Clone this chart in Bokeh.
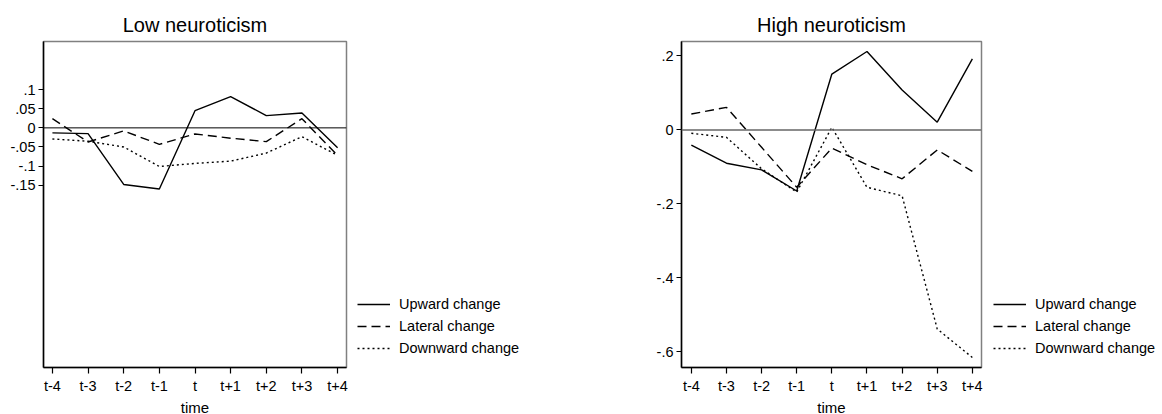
from bokeh.plotting import figure
from bokeh.layouts import row
from bokeh.models import FixedTicker, Span, Legend, LegendItem, Range1d
from bokeh.embed import file_html
from bokeh.resources import INLINE

time_labels = ["t-4", "t-3", "t-2", "t-1", "t", "t+1", "t+2", "t+3", "t+4"]
series_names = ["Upward change", "Lateral change", "Downward change"]

low_upward = [-0.013, -0.015, -0.148, -0.160, 0.045, 0.082, 0.032, 0.039, -0.052]
low_lateral = [0.024, -0.037, -0.008, -0.043, -0.016, -0.027, -0.036, 0.024, -0.072]
low_downward = [-0.029, -0.035, -0.050, -0.101, -0.093, -0.087, -0.066, -0.023, -0.072]

high_upward = [-0.041, -0.090, -0.108, -0.165, 0.151, 0.212, 0.108, 0.021, 0.192]
high_lateral = [0.043, 0.061, -0.047, -0.155, -0.049, -0.094, -0.132, -0.054, -0.112]
high_downward = [-0.009, -0.020, -0.105, -0.168, 0.007, -0.155, -0.178, -0.538, -0.615]

low_yticks = [0.1, 0.05, 0.0, -0.05, -0.1, -0.15]
low_ytick_labels = [".1", ".05", "0", "-.05", "-.1", "-.15"]
high_yticks = [0.2, 0.0, -0.2, -0.4, -0.6]
high_ytick_labels = [".2", "0", "-.2", "-.4", "-.6"]

FONT = "Liberation Sans"
xs = list(range(len(time_labels)))
dashes = ["solid", "9 5", "2 3"]
LINE_W = 1.4


def make_panel(title, ys_list, yticks, ylabels, xr, yr, fw, mbl, zero_color, zero_width):
    p = figure(frame_width=fw, frame_height=326, output_backend="svg", toolbar_location=None,
               x_range=Range1d(*xr), y_range=Range1d(*yr),
               min_border_left=mbl, min_border_right=2, min_border_top=41, min_border_bottom=47)
    p.title.text = title
    p.title.align = "center"
    p.title.text_font = FONT
    p.title.text_font_size = "20px"
    p.title.text_font_style = "normal"
    p.title.text_color = "black"
    p.title.standoff = 11
    p.xgrid.visible = False
    p.ygrid.visible = False
    p.outline_line_color = "#808080"
    p.outline_line_width = 1.5
    p.background_fill_color = "white"
    p.border_fill_color = "white"

    p.add_layout(Span(location=0, dimension="width", line_color=zero_color, line_width=zero_width))

    for ys, dash in zip(ys_list, dashes):
        p.line(xs, ys, line_color="black", line_width=LINE_W, line_dash=dash)

    xa = p.xaxis[0]
    xa.ticker = FixedTicker(ticks=xs)
    xa.major_label_overrides = {i: lab for i, lab in zip(xs, time_labels)}
    xa.axis_label = "time"
    xa.axis_label_text_font = FONT
    xa.axis_label_text_font_size = "15px"
    xa.axis_label_text_font_style = "normal"
    xa.axis_label_text_color = "black"
    xa.axis_label_standoff = 2
    xa.major_label_standoff = 4

    ya = p.yaxis[0]
    ya.ticker = FixedTicker(ticks=yticks)
    ya.major_label_overrides = {t: lab for t, lab in zip(yticks, ylabels)}
    ya.major_label_standoff = 3

    for ax in (xa, ya):
        ax.minor_tick_line_color = None
        ax.major_tick_out = 6 if ax is xa else 5
        ax.major_tick_in = 0
        ax.axis_line_color = "black"
        ax.axis_line_width = 1.5
        ax.major_tick_line_color = "black"
        ax.major_tick_line_width = 1.2
        ax.major_label_text_font = FONT
        ax.major_label_text_font_size = "14.5px"
        ax.major_label_text_color = "black"
    return p


def make_legend(width, x_off, ys_list):
    # legend-only panel: the series are plotted outside its (empty) visible range
    q = figure(width=width, height=414, output_backend="svg", toolbar_location=None,
               x_range=Range1d(100, 101), y_range=Range1d(100, 101),
               min_border=0, x_axis_type=None, y_axis_type=None)
    q.xgrid.visible = False
    q.ygrid.visible = False
    q.outline_line_color = None
    q.background_fill_color = "white"
    q.border_fill_color = "white"
    items = []
    for name, ys, dash in zip(series_names, ys_list, dashes):
        r = q.line(xs, ys, line_color="black", line_width=LINE_W, line_dash=dash)
        items.append(LegendItem(label=name, renderers=[r]))
    legend = Legend(items=items, location=(x_off, 4), border_line_color=None,
                    background_fill_alpha=0, padding=0, spacing=0, margin=0,
                    glyph_width=33, glyph_height=22, label_height=22, label_standoff=9,
                    label_text_font=FONT, label_text_font_size="14.5px",
                    label_text_color="black")
    q.add_layout(legend, "center")
    return q


low_series = [low_upward, low_lateral, low_downward]
high_series = [high_upward, high_lateral, high_downward]

p1 = make_panel("Low neuroticism", low_series,
                low_yticks, low_ytick_labels, (-0.25, 8.25), (-0.627, 0.226),
                303, 43, "black", 1.0)
leg1 = make_legend(292, 9, low_series)
p2 = make_panel("High neuroticism", high_series,
                high_yticks, high_ytick_labels, (-0.28, 8.26), (-0.642, 0.239),
                300, 41, "#666666", 1.5)
leg2 = make_legend(177, 10, high_series)

layout = row(p1, leg1, p2, leg2)
open("out.html", "w").write(file_html(layout, INLINE))
